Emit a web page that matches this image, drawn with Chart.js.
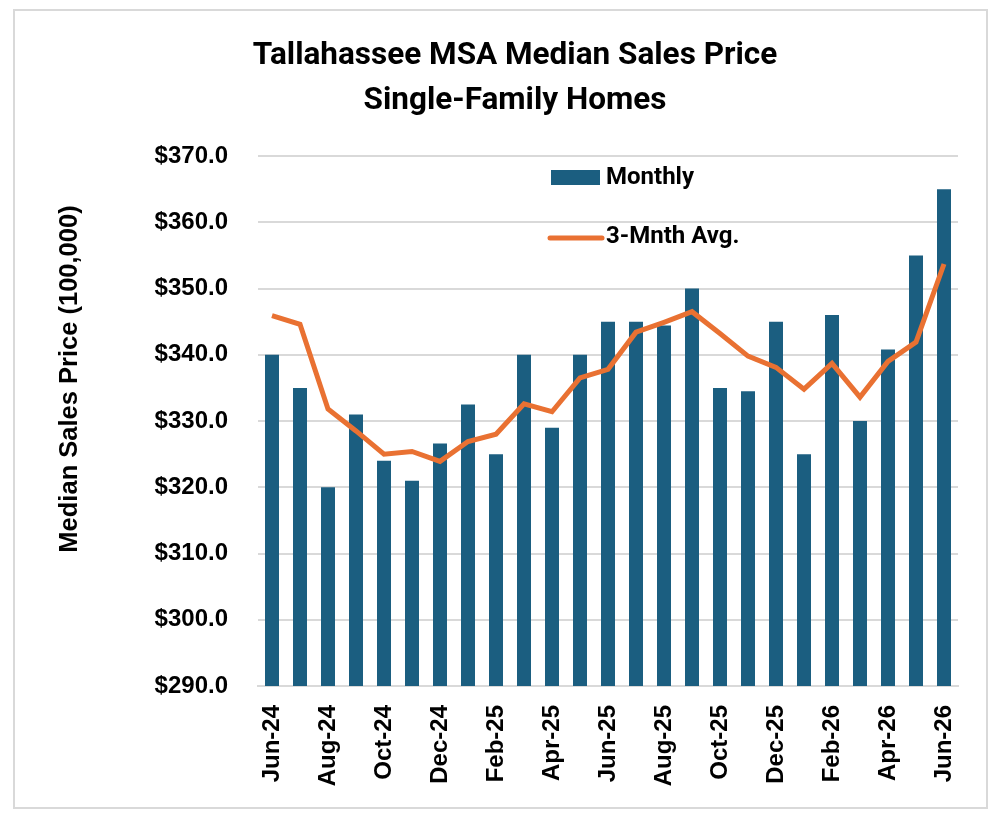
<!DOCTYPE html>
<html>
<head>
	<meta charset="utf-8">
	<title>Tallahassee MSA Median Sales Price</title>
	<script src="https://cdn.jsdelivr.net/npm/chart.js@4.4.1/dist/chart.umd.min.js"></script>
	<style>
		html, body { margin: 0; padding: 0; background: #fff; }
		#frame {
			position: absolute; left: 13px; top: 9px;
			width: 975px; height: 800px;
			box-sizing: border-box; border: 2px solid #d9d9d9;
		}
		#frame canvas { display: block; }
	</style>
</head>
<body>
<div id="frame"><canvas id="graph" width="971" height="796"></canvas></div>
<script>
	const months = ['Jun-24', 'Jul-24', 'Aug-24', 'Sep-24', 'Oct-24', 'Nov-24', 'Dec-24',
		'Jan-25', 'Feb-25', 'Mar-25', 'Apr-25', 'May-25', 'Jun-25', 'Jul-25', 'Aug-25',
		'Sep-25', 'Oct-25', 'Nov-25', 'Dec-25', 'Jan-26', 'Feb-26', 'Mar-26', 'Apr-26',
		'May-26', 'Jun-26'];

	// median price, thousands of dollars
	const monthly = [340.0, 335.0, 320.0, 331.0, 324.0, 321.0, 326.6, 332.5, 325.0,
		340.0, 329.0, 340.0, 345.0, 345.0, 344.4, 350.0, 335.0, 334.5, 345.0, 325.0,
		346.0, 330.0, 340.8, 355.0, 365.0];

	const avg3 = [345.9, 344.6, 331.8, 328.5, 325.0, 325.4, 323.9, 326.9, 328.0,
		332.6, 331.4, 336.5, 337.8, 343.4, 344.9, 346.5, 343.2, 339.8, 338.1, 334.8,
		338.7, 333.6, 339.0, 341.9, 353.7];

	const yTicks = [290, 300, 310, 320, 330, 340, 350, 360, 370];

	const titleLines = ['Tallahassee MSA Median Sales Price', 'Single-Family Homes'];
	const yTitle = 'Median Sales Price (100,000)';

	const blue = '#1b5e80';
	const orange = '#e97132';
	const grid = '#d9d9d9';

	// legend sits inside the plot, plus the y title which is drawn off-centre
	const extras = {
		id: 'extras',
		afterDraw(chart) {
			const ctx = chart.ctx;
			const a = chart.chartArea;
			ctx.save();

			ctx.fillStyle = '#000';
			ctx.font = 'bold 25.5px "Liberation Sans", Arial, sans-serif';
			ctx.textAlign = 'center';
			ctx.textBaseline = 'middle';
			ctx.translate(a.left - 188, a.top + 223);
			ctx.rotate(-Math.PI / 2);
			ctx.fillText(yTitle, 0, 0);
			ctx.restore();

			ctx.save();
			const lx = a.left + 293;
			ctx.font = 'bold 24px Roboto, sans-serif';
			ctx.textBaseline = 'middle';
			ctx.textAlign = 'left';

			ctx.fillStyle = blue;
			ctx.fillRect(lx, a.top + 14, 49, 15);
			ctx.fillStyle = '#000';
			ctx.fillText(chart.data.datasets[1].label, lx + 55, a.top + 22);

			ctx.strokeStyle = orange;
			ctx.lineWidth = 5;
			ctx.lineCap = 'round';
			ctx.beginPath();
			ctx.moveTo(lx - 1, a.top + 82);
			ctx.lineTo(lx + 51, a.top + 82);
			ctx.stroke();
			ctx.fillText(chart.data.datasets[0].label, lx + 55, a.top + 81);
			ctx.restore();
		}
	};

	(function() {
		const ctx = document.getElementById('graph').getContext('2d');

		new Chart(ctx, {
			data: {
				labels: months,
				datasets: [{
					type: 'line',
					label: '3-Mnth Avg.',
					data: avg3,
					borderColor: orange,
					borderWidth: 5,
					pointRadius: 0,
					tension: 0,
					order: 0
				}, {
					type: 'bar',
					label: 'Monthly',
					data: monthly,
					backgroundColor: blue,
					barPercentage: 0.5,
					categoryPercentage: 1.0,
					order: 1
				}]
			},
			options: {
				responsive: false,
				animation: false,
				layout: {
					padding: { left: 57, right: 28, top: 0, bottom: 0 }
				},
				scales: {
					x: {
						grid: { display: false },
						border: { display: true, color: grid, width: 2 },
						ticks: {
							autoSkip: false,
							maxRotation: 90,
							minRotation: 90,
							padding: 11,
							color: '#000',
							font: { family: '"Liberation Sans", Arial, sans-serif', size: 24, weight: 'bold' },
							callback: function(value, i) {
								return i % 2 === 0 ? months[i] : '';
							}
						},
						afterFit: function(scale) {
							scale.height = 121;
						}
					},
					y: {
						min: yTicks[0],
						max: yTicks[yTicks.length - 1],
						border: { display: false },
						grid: { color: grid, lineWidth: 2, drawTicks: false },
						afterBuildTicks: function(scale) {
							scale.ticks = yTicks.map(v => ({ value: v }));
						},
						ticks: {
							padding: 30,
							color: '#000',
							font: { family: '"Liberation Sans", Arial, sans-serif', size: 24, weight: 'bold' },
							callback: function(value) {
								return '$' + value.toFixed(1);
							}
						},
						afterFit: function(scale) {
							scale.width = 186;
						}
					}
				},
				plugins: {
					legend: { display: false },
					tooltip: { enabled: false },
					title: {
						display: true,
						text: titleLines,
						color: '#000',
						font: { family: 'Roboto, sans-serif', size: 31.5, weight: 'bold', lineHeight: 45 / 31.5 },
						padding: { top: 22.5, bottom: 32.5 }
					}
				}
			},
			plugins: [extras]
		});
	})();
</script>
</body>
</html>
